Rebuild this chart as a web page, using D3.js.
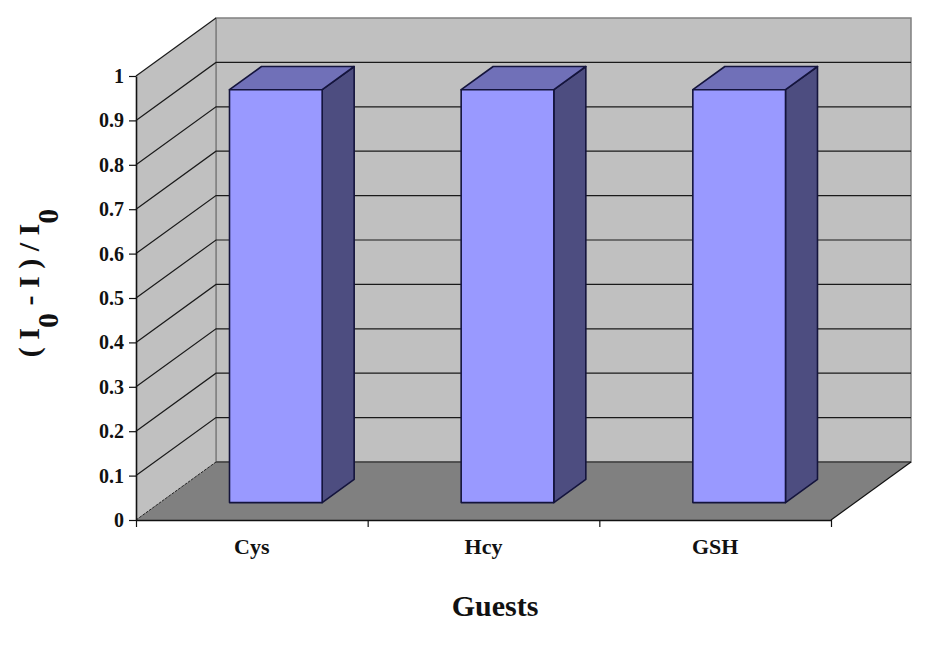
<!DOCTYPE html>
<html>
<head>
<meta charset="utf-8">
<script src="https://cdn.jsdelivr.net/npm/d3@7"></script>
<style>
	html, body { margin: 0; padding: 0; background: #fff; }
	text { font-family: "Liberation Serif", serif; font-weight: bold; fill: #111; }
</style>
</head>
<body>
<div id="chart"></div>
<script>
const categories = ["Cys", "Hcy", "GSH"];
const values = [0.93, 0.93, 0.93];
const yTicks = [0, 0.1, 0.2, 0.3, 0.4, 0.5, 0.6, 0.7, 0.8, 0.9, 1];

let width = 927, height = 650;
let svg = d3.select("#chart").append("svg")
	.attr("width", width)
	.attr("height", height)
	.style("display", "block");

// Front plane scales
let xScale = d3.scaleBand().domain(categories).range([136, 831]).paddingInner(0.6).paddingOuter(0.3);
let xEdges = d3.scaleLinear().domain([0, categories.length]).range([136, 831]);
let yScale = d3.scaleLinear().domain([0, 1]).range([520, 76]);

// Oblique depth, 0 = front of the box, 1 = back wall
let depthX = d3.scaleLinear().domain([0, 1]).range([0, 80]);
let depthY = d3.scaleLinear().domain([0, 1]).range([0, -58]);
let px = (x, d) => x + depthX(d);
let py = (y, d) => y + depthY(d);
let poly = pts => "M" + pts.map(p => p.join(",")).join("L") + "Z";

let x0 = 136, x1 = 831, yBot = yScale(0), yTop = yScale(1);

// Back wall
svg.append("path")
	.attr("d", poly([[px(x0, 1), py(yTop, 1)], [px(x1, 1), py(yTop, 1)], [px(x1, 1), py(yBot, 1)], [px(x0, 1), py(yBot, 1)]]))
	.attr("fill", "#c0c0c0").attr("stroke", "#808080").attr("stroke-width", 1.5);

// Side wall
svg.append("path")
	.attr("d", poly([[x0, yTop], [px(x0, 1), py(yTop, 1)], [px(x0, 1), py(yBot, 1)], [x0, yBot]]))
	.attr("fill", "#c0c0c0").attr("stroke", "none");
svg.append("line")
	.attr("x1", px(x0, 1)).attr("y1", py(yTop, 1)).attr("x2", px(x0, 1)).attr("y2", py(yBot, 1))
	.attr("stroke", "#808080").attr("stroke-width", 1.5);

// Floor
svg.append("path")
	.attr("d", poly([[x0, yBot], [x1, yBot], [px(x1, 1), py(yBot, 1)], [px(x0, 1), py(yBot, 1)]]))
	.attr("fill", "#808080").attr("stroke", "none");

// Gridlines on both walls
svg.append("g").selectAll("path")
	.data(yTicks)
	.join("path")
	.attr("d", d => d === 0
		? `M${px(x0, 1)},${py(yScale(d), 1)}H${px(x1, 1)}`
		: `M${x0},${yScale(d)}L${px(x0, 1)},${py(yScale(d), 1)}` + (d === 1 ? "" : `H${px(x1, 1)}`))
	.attr("fill", "none")
	.attr("stroke", "#1a1a1a")
	.attr("stroke-width", 1.2);

// Outer edges of the side wall and floor
svg.append("path")
	.attr("d", `M${x0},${yBot}L${px(x0, 1)},${py(yBot, 1)}`)
	.attr("stroke", "#222").attr("stroke-width", 1).attr("stroke-dasharray", "3 1");
svg.append("path")
	.attr("d", `M${x1},${yBot}L${px(x1, 1)},${py(yBot, 1)}`)
	.attr("stroke", "#111").attr("stroke-width", 1.2);

// Bars
let barFront = 0.3, barBack = 0.7;
let bars = svg.append("g").selectAll("g")
	.data(categories.map((c, i) => ({ c: c, v: values[i] })))
	.join("g")
	.attr("stroke", "#14143c")
	.attr("stroke-width", 1.6)
	.attr("stroke-linejoin", "round");

bars.append("path")
	.attr("fill", "#4d4d80")
	.attr("d", d => {
		let r = xScale(d.c) + xScale.bandwidth();
		return poly([[px(r, barFront), py(yScale(d.v), barFront)], [px(r, barBack), py(yScale(d.v), barBack)],
			[px(r, barBack), py(yBot, barBack)], [px(r, barFront), py(yBot, barFront)]]);
	});
bars.append("path")
	.attr("fill", "#7070b8")
	.attr("d", d => {
		let l = xScale(d.c), r = l + xScale.bandwidth(), t = yScale(d.v);
		return poly([[px(l, barFront), py(t, barFront)], [px(r, barFront), py(t, barFront)],
			[px(r, barBack), py(t, barBack)], [px(l, barBack), py(t, barBack)]]);
	});
bars.append("path")
	.attr("fill", "#9999ff")
	.attr("d", d => {
		let l = xScale(d.c), r = l + xScale.bandwidth(), t = yScale(d.v);
		return poly([[px(l, barFront), py(t, barFront)], [px(r, barFront), py(t, barFront)],
			[px(r, barFront), py(yBot, barFront)], [px(l, barFront), py(yBot, barFront)]]);
	});

// Axes
let yAxis = svg.append("g")
	.attr("transform", `translate(${x0}, 0)`)
	.call(d3.axisLeft(yScale).tickValues(yTicks).tickFormat(d3.format("")).tickSize(7).tickSizeOuter(0).tickPadding(5));
yAxis.selectAll("text").style("font-size", "20px");

let xAxis = svg.append("g")
	.attr("transform", `translate(0, ${yBot})`)
	.call(d3.axisBottom(xEdges).tickValues(d3.range(categories.length + 1)).tickFormat("").tickSize(7).tickSizeOuter(0));
svg.selectAll(".domain").attr("stroke", "#111").attr("stroke-width", 1.6);
svg.selectAll(".tick line").attr("stroke", "#111").attr("stroke-width", 1.2);

svg.append("g").selectAll("text")
	.data(categories)
	.join("text")
	.attr("x", d => xScale(d) + xScale.bandwidth() * 0.5)
	.attr("y", 554)
	.attr("text-anchor", "middle")
	.style("font-size", "22px")
	.text(d => d);

// Titles
svg.append("text")
	.attr("x", 495)
	.attr("y", 616)
	.attr("text-anchor", "middle")
	.style("font-size", "30px")
	.text("Guests");

let yTitle = svg.append("text")
	.attr("transform", "translate(39, 283) rotate(-90)")
	.attr("text-anchor", "middle")
	.style("font-size", "30px");
yTitle.append("tspan").text("( I");
yTitle.append("tspan").attr("dy", 19).text("0");
yTitle.append("tspan").attr("dy", -19).text(" - I ) / I");
yTitle.append("tspan").attr("dy", 19).text("0");
</script>
</body>
</html>
